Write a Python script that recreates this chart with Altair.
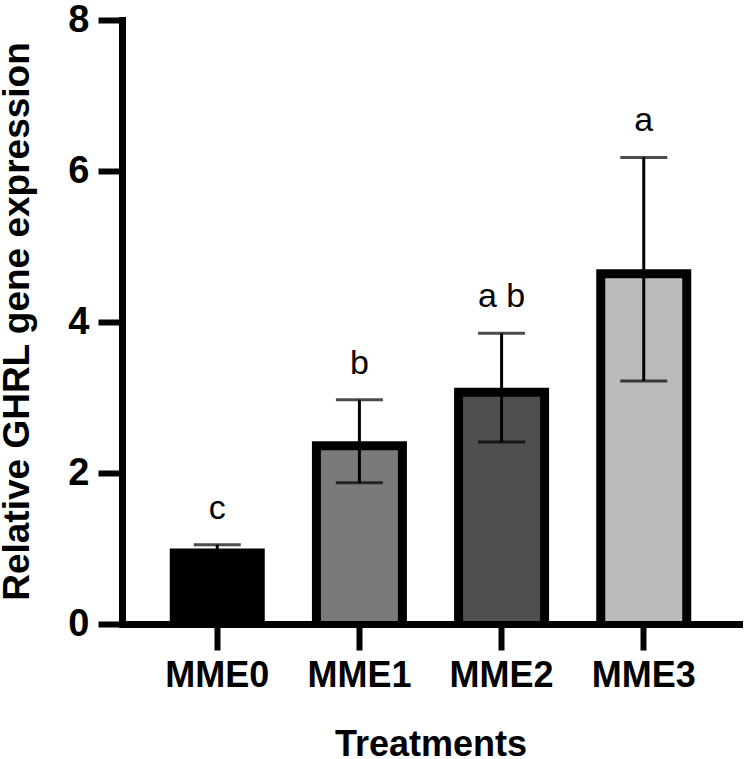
import altair as alt
import pandas as pd

# Relative GHRL expression per treatment (mean ± SD) with significance letters
treatments = ["MME0", "MME1", "MME2", "MME3"]
means = [1.00, 2.42, 3.13, 4.70]
sds = [0.05, 0.55, 0.72, 1.48]
letters = ["c", "b", "a b", "a"]
fills = ["#000000", "#7a7a7a", "#4f4f4f", "#bbbbbb"]

df = pd.DataFrame({"treatment": treatments, "mean": means, "sd": sds, "letter": letters})
df["lo"] = df["mean"] - df["sd"]
df["hi"] = df["mean"] + df["sd"]

FONT = "Liberation Sans"
Y_TITLE = "Relative GHRL gene expression"

x_enc = alt.X(
    "treatment:N",
    sort=treatments,
    scale=alt.Scale(paddingInner=0, paddingOuter=0.17),
    axis=alt.Axis(
        title="Treatments",
        labelAngle=0,
        labelFont=FONT,
        labelFontSize=36,
        labelFontWeight="bold",
        labelColor="black",
        labelPadding=8,
        domainColor="black",
        domainWidth=7,
        domainCap="square",
        tickColor="black",
        tickWidth=6,
        tickSize=26,
        titleFont=FONT,
        titleFontSize=36,
        titleFontWeight="bold",
        titleColor="black",
        titleBaseline="alphabetic",
        titleY=131,
        zindex=1,
    ),
)

y_scale = alt.Scale(domain=[0, 8], nice=False)
y_axis = alt.Axis(
    values=[0, 2, 4, 6, 8],
    format="d",
    grid=False,
    domainColor="black",
    domainWidth=7,
    domainCap="square",
    tickColor="black",
    tickWidth=6,
    tickSize=24,
    labelFont=FONT,
    labelFontSize=38,
    labelFontWeight="bold",
    labelColor="black",
    labelPadding=9,
    titleFont=FONT,
    titleFontSize=37,
    titleFontWeight="bold",
    titleColor="black",
    titleAngle=270,
    titleAlign="center",
    titleBaseline="middle",
    titleX=-105,
    titleY=301,
    zindex=1,
)

base = alt.Chart(df)

# Black frame of each bar
outer = base.mark_bar(color="black", size=95).encode(
    x=x_enc,
    y=alt.Y("mean:Q", scale=y_scale, axis=y_axis, title=Y_TITLE, stack=None),
)

# Grey fill inset inside the frame
inner = base.mark_bar(size=77, yOffset=9).encode(
    x=x_enc,
    y=alt.Y("mean:Q", scale=y_scale, axis=y_axis, title=Y_TITLE, stack=None),
    color=alt.Color(
        "treatment:N",
        scale=alt.Scale(domain=treatments, range=fills),
        legend=None,
    ),
)

# Error bars: stem and caps
stem = base.mark_rule(color="black", strokeWidth=3).encode(
    x=x_enc,
    y=alt.Y("lo:Q", scale=y_scale, axis=y_axis, title=Y_TITLE),
    y2="hi:Q",
)
cap_hi = base.mark_tick(color="black", thickness=3, size=47).encode(
    x=x_enc,
    y=alt.Y("hi:Q", scale=y_scale, axis=y_axis, title=Y_TITLE),
)
cap_lo = base.mark_tick(color="black", thickness=3, size=47).encode(
    x=x_enc,
    y=alt.Y("lo:Q", scale=y_scale, axis=y_axis, title=Y_TITLE),
)

# Significance letters above the error bars
labels = base.mark_text(
    font=FONT, fontSize=34, color="black", baseline="alphabetic", dy=-26
).encode(
    x=x_enc,
    y=alt.Y("hi:Q", scale=y_scale, axis=y_axis, title=Y_TITLE),
    text="letter:N",
)

chart = (
    alt.layer(outer, inner, stem, cap_hi, cap_lo, labels)
    .properties(
        width=617,
        height=604,
        padding={"left": 122, "top": 20, "right": 5, "bottom": 135},
        autosize=alt.AutoSizeParams(type="none"),
        background="white",
    )
    .configure_view(stroke=None)
)

chart.save("out.html", embed_options={"renderer": "svg", "actions": False})
